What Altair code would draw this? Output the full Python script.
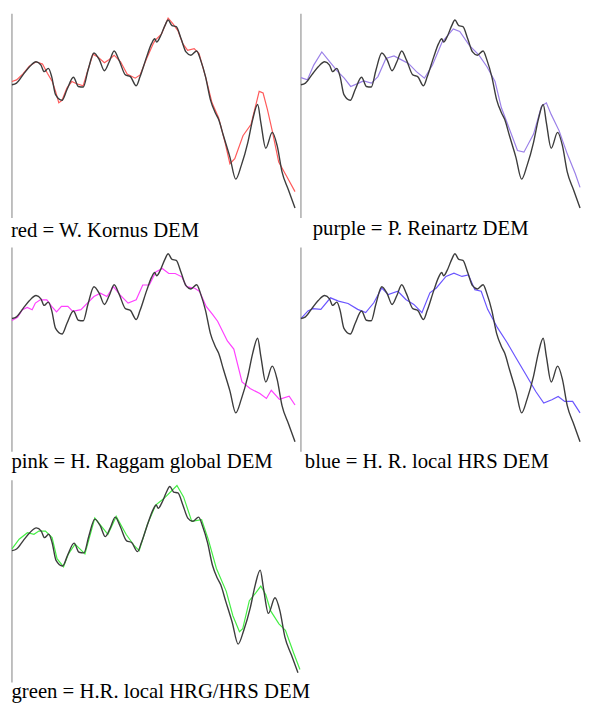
import altair as alt
import pandas as pd

# Reference profile (black), distance along profile vs relative elevation
ref_dist = [0, 4.7, 11.3, 18, 24.7, 29.7, 33, 37.3, 40.7, 44.7, 51.3, 56.3, 63, 68, 73, 78, 84,
            89.7, 94.7, 99.7, 104.7, 109.7, 116.3, 121.3, 127.3, 131.3, 138, 143, 146.3, 148.3,
            151.7, 156.7, 160, 164, 168.3, 173.3, 178.3, 183.3, 189.3, 193.3, 198.3, 203.3,
            208.3, 211.7, 216.7, 223.3, 229.3, 235, 241.7, 246.7, 251.7, 255, 260, 266.7,
            271.7, 276.7, 283.3, 290]
ref_elev = [135, 136.7, 145, 153.3, 158.3, 155, 148.3, 151.7, 143.3, 125, 119.3, 130, 142.7,
            133.3, 132.7, 150, 167.3, 160, 149.3, 158.3, 169.3, 160, 145, 143.3, 134, 143.3,
            163.3, 176.7, 181.7, 178.3, 183.3, 195, 200.7, 195, 194, 181.7, 168.3, 165, 169.3,
            160, 143.3, 120, 106.7, 100, 83.3, 61.7, 39.3, 53.3, 76.7, 100, 115, 96.7, 70.7,
            86.7, 73.3, 46.7, 28.3, 10]

kornus_dist = [0, 4.7, 11.3, 18, 24.7, 31.3, 36.3, 41.3, 44.7, 48, 51.3, 56.3, 61.3, 66.3, 73,
               78, 83, 88, 94.7, 99.7, 104.7, 111.3, 118, 126.3, 131.3, 138, 144.7, 146.7,
               153.3, 160, 165, 170, 175, 180, 186.7, 191.7, 198.3, 205, 211.7, 218.3, 223.3,
               228.3, 236.7, 245, 253.3, 257.3, 261.7, 266.7, 273.3, 281.7, 290]
kornus_elev = [138.3, 140, 146, 154, 158.3, 156, 146.7, 138.3, 128.3, 116.7, 119.3, 131.7,
               138.3, 136, 134, 150.7, 166, 163.3, 157.3, 160.7, 165, 158.3, 146, 141.7, 145,
               161.7, 176.7, 180, 186.7, 202.7, 196.7, 190, 176.7, 170, 171.7, 166.7, 143.3,
               116.7, 101.7, 76.7, 55, 60, 83.3, 95, 128.3, 126.7, 110, 88.3, 56.7, 41.7, 26.7]

reinartz_dist = [0, 6.7, 13.3, 21.7, 30, 38.3, 45, 51.7, 60, 65, 73.3, 80, 88.3, 96.7, 105,
                 111.7, 120, 128.3, 136.7, 146.7, 158.3, 165, 175, 185, 193.3, 201.7, 208.3,
                 216.7, 225, 231.7, 241.7, 250, 255, 260, 268.3, 276.7, 285, 290]
reinartz_elev = [142.3, 140, 155, 168.3, 158.3, 148.3, 141.7, 133.3, 136.7, 139, 136.7, 143.3,
                 161.7, 164.3, 160, 156.7, 148.3, 141.7, 155, 178.3, 191.7, 189, 175, 165,
                 153.3, 138.3, 111.7, 90, 68.3, 66.7, 85, 113.3, 116.7, 105, 88.3, 65, 45, 31]

raggam_dist = [0, 5.7, 10.7, 15.7, 20.7, 24, 29, 35.7, 40.7, 45.7, 50.7, 57.3, 62.3, 70.7,
               77.3, 84, 90.7, 97.3, 104, 110.7, 119, 127.3, 134, 140.7, 147.3, 154, 160.7,
               167.3, 174, 179, 187.3, 192.3, 199, 205.7, 210.7, 220.7, 227.3, 235.7, 244, 254,
               260.7, 265.7, 274, 284, 290]
raggam_elev = [133, 136.3, 144, 146.3, 144, 150.7, 154, 154, 147.3, 141.7, 147.3, 147.3, 142.3,
               144, 150.7, 157.3, 160.7, 157.3, 167.3, 159, 150.7, 154, 169, 169, 182.3, 185.7,
               180.7, 180.7, 177.3, 167.3, 165.7, 162.3, 147.3, 139, 132.3, 112.3, 104, 70.7,
               64, 59, 54, 62.3, 53, 56.3, 47.3]

hrs_dist = [0, 7.3, 12.3, 20.7, 30.7, 39, 49, 59, 67.3, 75.7, 84, 90.7, 100.7, 109, 117.3,
            125.7, 134, 140.7, 150.7, 159, 167.3, 174, 180.7, 187.3, 194, 204, 214, 224, 234,
            244, 252.3, 260.7, 267.3, 274, 282.3, 290]
hrs_elev = [135, 142.7, 145, 144.3, 156, 152.7, 150.3, 144.3, 141, 151, 166, 159.3, 162.7,
            154.3, 149.3, 141, 161, 166, 177.7, 181, 177.7, 179.3, 164.3, 162.7, 144.3, 126,
            111, 94.3, 77.7, 61, 49.3, 52.7, 56, 51, 51, 39.3]

hrg_dist = [0, 7.3, 15.7, 22.3, 27.3, 34, 40.7, 45.7, 52.3, 57.3, 64, 74, 84, 97.3, 105.7,
            115.7, 124, 129, 137.3, 145.7, 154, 167.3, 174, 182.3, 192.3, 199, 207.3, 217.3,
            224, 230.7, 234, 240.7, 247.4, 252.3, 257.3, 262.3, 270.7, 277.3, 285.7, 292]
hrg_elev = [136.7, 146.7, 153.3, 151.7, 155, 155, 148.3, 126.7, 118.3, 131.7, 141.7, 131.7,
            168.3, 151.7, 170, 151.7, 140, 135, 161.7, 181.7, 188.3, 201.7, 190, 165, 166.7,
            146.7, 116.7, 93.3, 68.3, 52, 55, 83.7, 92, 98.7, 90, 73.3, 60, 53.3, 30, 13.3]

captions = ["red = W. Kornus DEM", "purple = P. Reinartz DEM", "pink = H. Raggam global DEM",
            "blue = H. R. local HRS DEM", "green = H.R. local HRG/HRS DEM"]
colors = ["#ff5a5a", "#9b80e8", "#ff40ff", "#6a55ff", "#44ee44"]

# layout (pixels)
cap_x = [-1, 12, -0.5, 4, -0.5]
cap_y = [226, 224, 224, 224, 221]
widths = [287, 283, 287, 283, 290]
row_h = [236, 236, 235, 235, 225]
plot_h = [207, 207, 207, 207, 205]


def panel(i, dist, elev):
    ref = pd.DataFrame({"d": ref_dist, "e": ref_elev})
    dem = pd.DataFrame({"d": dist, "e": elev})
    cap = pd.DataFrame({"caption": [captions[i]]})
    w = widths[i]
    ph = plot_h[i]
    x = alt.X("d:Q", scale=alt.Scale(domain=[0, 290], range=[0, w], nice=False, zero=False),
              axis=None)
    y = alt.Y("e:Q", scale=alt.Scale(domain=[0, 207], range=[ph, 0], nice=False, zero=False),
              axis=None)
    edge = alt.Chart(cap).mark_rule(color="#ababab", strokeWidth=1.5).encode(
        x=alt.value(0), y=alt.value(0), y2=alt.value(ph))
    dem_line = alt.Chart(dem).mark_line(color=colors[i], strokeWidth=1.2).encode(x=x, y=y)
    ref_line = alt.Chart(ref).mark_line(color="#3c3c3c", strokeWidth=1.4,
                                        interpolate="monotone").encode(x=x, y=y)
    text = alt.Chart(cap).mark_text(align="left", baseline="alphabetic",
                                    font="Liberation Serif", fontSize=21,
                                    color="black").encode(
        text="caption:N", x=alt.value(cap_x[i]), y=alt.value(cap_y[i]))
    return alt.layer(edge, dem_line, ref_line, text).properties(width=w, height=row_h[i])


dems = [(kornus_dist, kornus_elev), (reinartz_dist, reinartz_elev), (raggam_dist, raggam_elev),
        (hrs_dist, hrs_elev), (hrg_dist, hrg_elev)]
panels = [panel(i, d, e) for i, (d, e) in enumerate(dems)]

row1 = alt.hconcat(panels[0], panels[1], spacing=0)
row2 = alt.hconcat(panels[2], panels[3], spacing=0)
chart = alt.vconcat(row1, row2, panels[4], spacing=0).properties(
    padding={"left": 1, "top": 0, "right": 0, "bottom": 0}
).configure_view(strokeWidth=0)

chart.save("out.html", embed_options={"renderer": "svg", "actions": False})
